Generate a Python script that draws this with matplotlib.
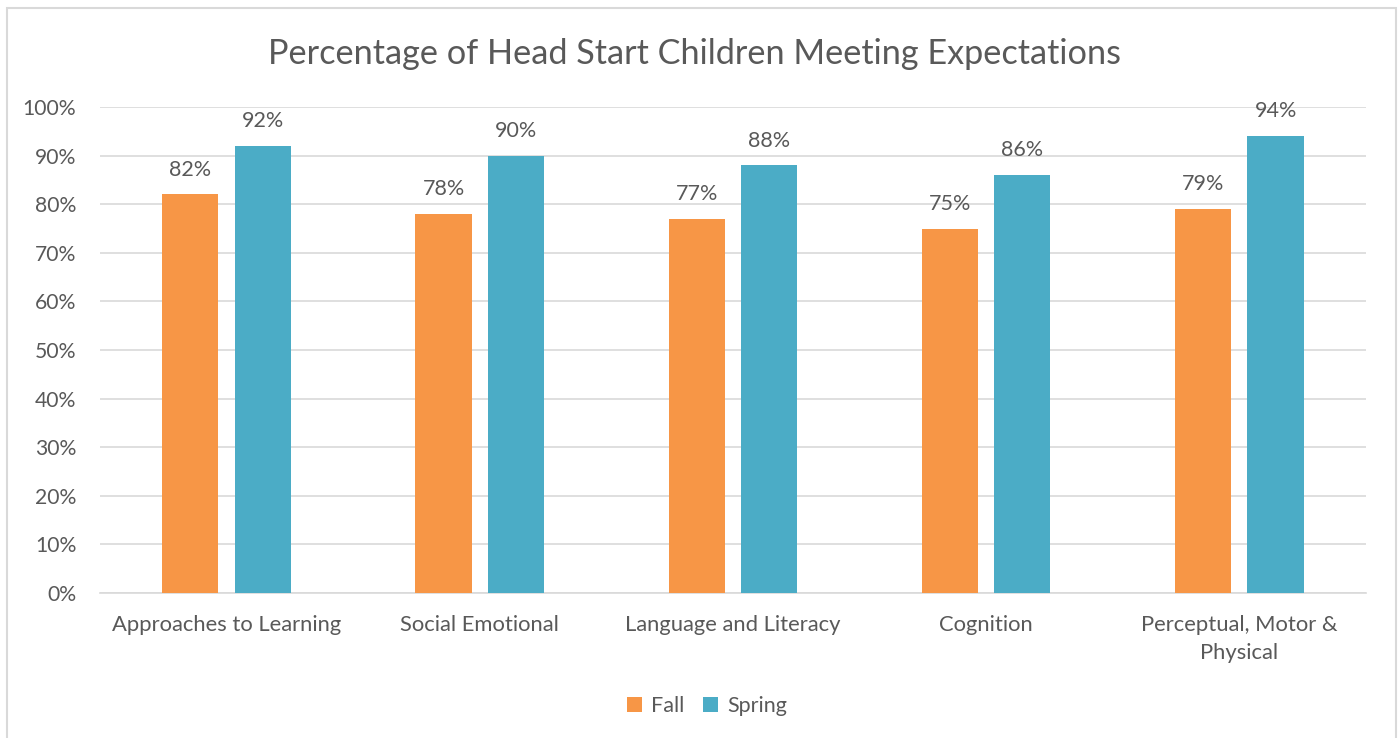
import numpy as np
import matplotlib.pyplot as plt
from matplotlib.patches import Rectangle
from matplotlib.ticker import PercentFormatter

plt.rcParams['font.family'] = ['Lato', 'DejaVu Sans']

categories = ['Approaches to Learning', 'Social Emotional', 'Language and Literacy',
              'Cognition', 'Perceptual, Motor &\nPhysical']
fall = [82, 78, 77, 75, 79]
spring = [92, 90, 88, 86, 94]
series_names = ['Fall', 'Spring']

TEXT = '#595959'
GRID = '#D9D9D9'
ORANGE = '#F79646'
BLUE = '#4BACC6'

fig = plt.figure(figsize=(14, 7.38), dpi=100)
ax = fig.add_axes([0.0714, 0.1965, 0.9043, 0.6585])

x = np.arange(len(categories))
w = 0.222
off = 0.143
b1 = ax.bar(x - off, fall, w, color=ORANGE, label=series_names[0], zorder=3)
b2 = ax.bar(x + off, spring, w, color=BLUE, label=series_names[1], zorder=3)

for bars, vals in [(b1, fall), (b2, spring)]:
    for r, v in zip(bars, vals):
        ax.text(r.get_x() + r.get_width() / 2, v + 5.1, f'{v}%', ha='center', va='center',
                fontsize=15.5, color=TEXT)

ax.set_xlim(-0.5, len(categories) - 0.5)
ax.set_ylim(0, 100)
ax.set_yticks(np.arange(0, 101, 10))
ax.yaxis.set_major_formatter(PercentFormatter(decimals=0))
ax.set_xticks(x)
ax.set_xticklabels(categories, fontsize=15.8, color=TEXT, linespacing=1.55)
ax.tick_params(axis='y', labelsize=15.2, labelcolor=TEXT, length=0, pad=17)
ax.tick_params(axis='x', length=0, pad=15.5)
ax.grid(axis='y', color=GRID, linewidth=1.2, zorder=0)
for s in ['top', 'right', 'left']:
    ax.spines[s].set_visible(False)
ax.spines['bottom'].set_color(GRID)
ax.spines['bottom'].set_linewidth(1.2)

fig.text(0.496, 0.927, 'Percentage of Head Start Children Meeting Expectations',
         ha='center', va='center', fontsize=24.7, color=TEXT)

fig.legend(handles=[b1, b2], loc='center', bbox_to_anchor=(0.505, 0.043), ncol=2,
           frameon=False, fontsize=15.5, handlelength=0.7, handleheight=0.7,
           handletextpad=0.4, columnspacing=0.9, labelcolor=TEXT)

fig.patches.append(Rectangle((7 / 1400, -0.05), 1389 / 1400, 1 - 8 / 738 + 0.05,
                             transform=fig.transFigure, fill=False, edgecolor=GRID,
                             linewidth=1.5))

fig.savefig('out.png', dpi=100)
